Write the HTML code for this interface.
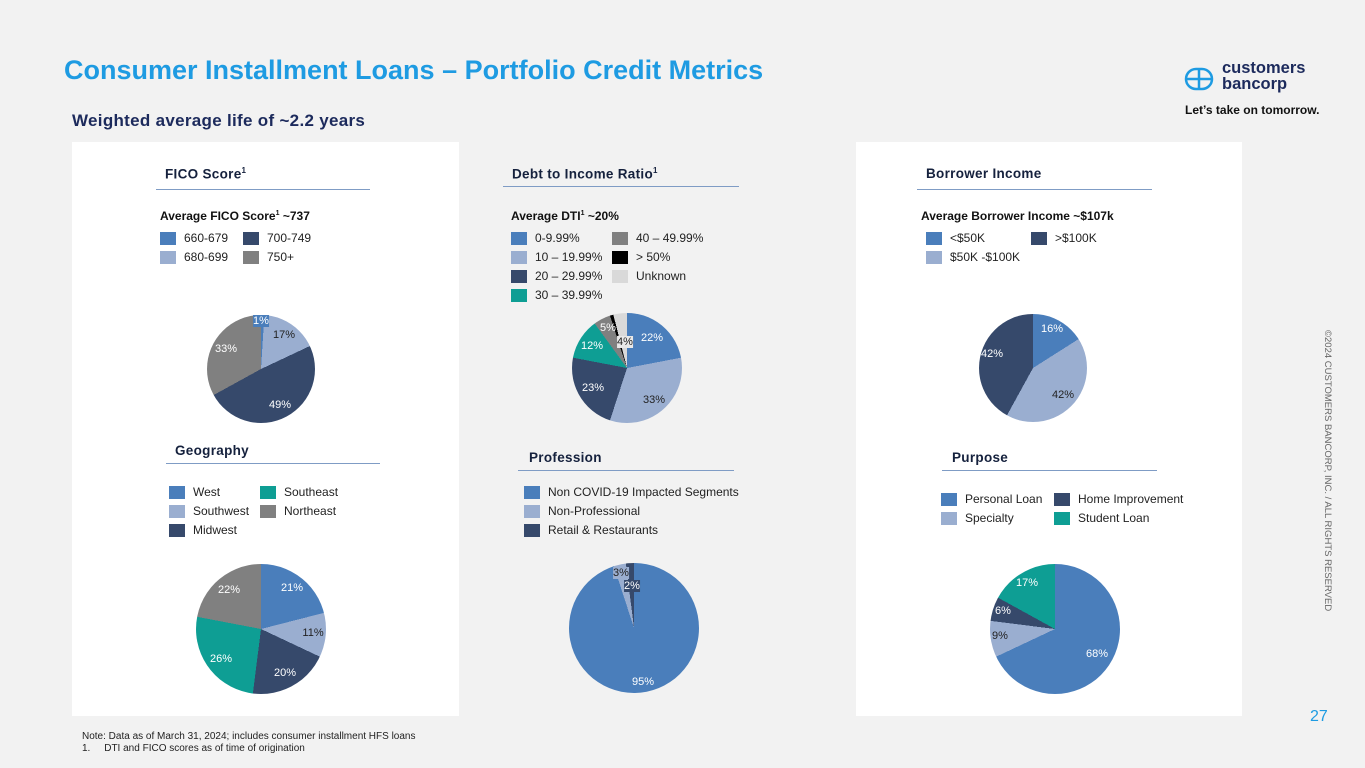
<!DOCTYPE html>
<html><head><meta charset="utf-8"><style>
body{margin:0;width:1365px;height:768px;background:#f2f2f2;position:relative;overflow:hidden;font-family:"Liberation Sans",sans-serif;color:#1c2541}
.a{position:absolute;white-space:nowrap}
.panel{position:absolute;background:#fff;top:142px;height:574px}
.h{position:absolute;font-weight:bold;font-size:13.5px;color:#15213d;white-space:nowrap;letter-spacing:0.3px}
.ul{position:absolute;height:1px;background:#7f9cc5}
.sub{position:absolute;font-weight:bold;font-size:12px;color:#111;white-space:nowrap}
.lg{position:absolute;font-size:12px;color:#222;white-space:nowrap;line-height:13px}
.lg i{display:inline-block;width:16px;height:13px;vertical-align:top;margin-right:8px}
.pie{position:absolute;border-radius:50%}
.pl{position:absolute;font-size:11px;white-space:nowrap;transform:translate(-50%,-50%)}
.w{color:#fff}.k{color:#222}
</style></head><body>
<div class="panel" style="left:72px;width:387px"></div>
<div class="panel" style="left:856px;width:386px"></div>

<div class="a" style="left:64px;top:55px;font-size:27px;font-weight:bold;color:#1e9be2">Consumer Installment Loans – Portfolio Credit Metrics</div>
<div class="a" style="left:72px;top:111px;font-size:17px;font-weight:bold;color:#1c2a5c;letter-spacing:0.3px">Weighted average life of ~2.2 years</div>

<svg class="a" style="left:1184px;top:67px" width="30" height="24" viewBox="0 0 30 24"><g fill="none" stroke="#1e9be2" stroke-width="2.5"><rect x="2" y="2" width="26" height="20" rx="10"/><line x1="3" y1="12" x2="27" y2="12"/><line x1="15" y1="2" x2="15" y2="22"/></g></svg>
<div class="a" style="left:1222px;top:60px;font-size:16.5px;font-weight:bold;color:#1c2a5c;line-height:16px">customers<br>bancorp</div>
<div class="a" style="left:1185px;top:103px;font-size:12px;font-weight:bold;color:#111">Let’s take on tomorrow.</div>

<div class="a" style="left:1322px;top:330px;font-size:9.5px;color:#666;transform-origin:0 0;transform:rotate(90deg) translateY(-100%)">©2024 CUSTOMERS BANCORP, INC. / ALL RIGHTS RESERVED</div>
<div class="a" style="left:1310px;top:708px;font-size:16px;color:#1e9be2">27</div>
<div class="a" style="left:82px;top:731px;font-size:10px;color:#222;line-height:12px">Note: Data as of March 31, 2024; includes consumer installment HFS loans<br>1.&nbsp;&nbsp;&nbsp;&nbsp;&nbsp;DTI and FICO scores as of time of origination</div>

<!-- FICO -->
<div class="h" style="left:165px;top:166px">FICO Score<sup style="font-size:8px">1</sup></div>
<div class="ul" style="left:156px;top:189px;width:214px"></div>
<div class="sub" style="left:160px;top:209px">Average FICO Score<sup style="font-size:7px">1</sup> ~737</div>
<div class="lg" style="left:160px;top:232px"><i style="background:#4a7ebb"></i>660-679</div>
<div class="lg" style="left:243px;top:232px"><i style="background:#36496b"></i>700-749</div>
<div class="lg" style="left:160px;top:251px"><i style="background:#9aaed0"></i>680-699</div>
<div class="lg" style="left:243px;top:251px"><i style="background:#808080"></i>750+</div>
<div class="pie" style="left:207px;top:315px;width:108px;height:108px;background:conic-gradient(#4a7ebb 0 1%,#9aaed0 1% 18%,#36496b 18% 67%,#808080 67% 100%)"></div>
<div class="pl w" style="left:261px;top:321px;background:#4a7ebb">1%</div>
<div class="pl k" style="left:284px;top:335px">17%</div>
<div class="pl w" style="left:226px;top:349px">33%</div>
<div class="pl w" style="left:280px;top:405px">49%</div>

<!-- DTI -->
<div class="h" style="left:512px;top:166px">Debt to Income Ratio<sup style="font-size:8px">1</sup></div>
<div class="ul" style="left:503px;top:186px;width:236px"></div>
<div class="sub" style="left:511px;top:209px">Average DTI<sup style="font-size:7px">1</sup> ~20%</div>
<div class="lg" style="left:511px;top:232px"><i style="background:#4a7ebb"></i>0-9.99%</div>
<div class="lg" style="left:612px;top:232px"><i style="background:#808080"></i>40 – 49.99%</div>
<div class="lg" style="left:511px;top:251px"><i style="background:#9aaed0"></i>10 – 19.99%</div>
<div class="lg" style="left:612px;top:251px"><i style="background:#000"></i>&gt; 50%</div>
<div class="lg" style="left:511px;top:270px"><i style="background:#36496b"></i>20 – 29.99%</div>
<div class="lg" style="left:612px;top:270px"><i style="background:#d9d9d9"></i>Unknown</div>
<div class="lg" style="left:511px;top:289px"><i style="background:#0e9e94"></i>30 – 39.99%</div>
<div class="pie" style="left:572px;top:313px;width:110px;height:110px;background:conic-gradient(#4a7ebb 0 22%,#9aaed0 22% 55%,#36496b 55% 78%,#0e9e94 78% 90%,#808080 90% 95%,#000 95% 96%,#d9d9d9 96% 100%)"></div>
<div class="pl w" style="left:652px;top:338px">22%</div>
<div class="pl k" style="left:654px;top:400px">33%</div>
<div class="pl w" style="left:593px;top:388px">23%</div>
<div class="pl w" style="left:592px;top:346px">12%</div>
<div class="pl w" style="left:608px;top:328px">5%</div>
<div class="pl k" style="left:625px;top:342px;background:#e8e8e8">4%</div>

<!-- Income -->
<div class="h" style="left:926px;top:166px">Borrower Income</div>
<div class="ul" style="left:917px;top:189px;width:235px"></div>
<div class="sub" style="left:921px;top:209px">Average Borrower Income ~$107k</div>
<div class="lg" style="left:926px;top:232px"><i style="background:#4a7ebb"></i>&lt;$50K</div>
<div class="lg" style="left:1031px;top:232px"><i style="background:#36496b"></i>&gt;$100K</div>
<div class="lg" style="left:926px;top:251px"><i style="background:#9aaed0"></i>$50K -$100K</div>
<div class="pie" style="left:979px;top:314px;width:108px;height:108px;background:conic-gradient(#4a7ebb 0 16%,#9aaed0 16% 58%,#36496b 58% 100%)"></div>
<div class="pl w" style="left:1052px;top:329px">16%</div>
<div class="pl k" style="left:1063px;top:395px">42%</div>
<div class="pl w" style="left:992px;top:354px">42%</div>

<!-- Geography -->
<div class="h" style="left:175px;top:443px">Geography</div>
<div class="ul" style="left:166px;top:463px;width:214px"></div>
<div class="lg" style="left:169px;top:486px"><i style="background:#4a7ebb"></i>West</div>
<div class="lg" style="left:260px;top:486px"><i style="background:#0e9e94"></i>Southeast</div>
<div class="lg" style="left:169px;top:505px"><i style="background:#9aaed0"></i>Southwest</div>
<div class="lg" style="left:260px;top:505px"><i style="background:#808080"></i>Northeast</div>
<div class="lg" style="left:169px;top:524px"><i style="background:#36496b"></i>Midwest</div>
<div class="pie" style="left:196px;top:564px;width:130px;height:130px;background:conic-gradient(#4a7ebb 0 21%,#9aaed0 21% 32%,#36496b 32% 52%,#0e9e94 52% 78%,#808080 78% 100%)"></div>
<div class="pl w" style="left:292px;top:588px">21%</div>
<div class="pl k" style="left:313px;top:633px">11%</div>
<div class="pl w" style="left:285px;top:673px">20%</div>
<div class="pl w" style="left:221px;top:659px">26%</div>
<div class="pl w" style="left:229px;top:590px">22%</div>

<!-- Profession -->
<div class="h" style="left:529px;top:450px">Profession</div>
<div class="ul" style="left:518px;top:470px;width:216px"></div>
<div class="lg" style="left:524px;top:486px"><i style="background:#4a7ebb"></i>Non COVID-19 Impacted Segments</div>
<div class="lg" style="left:524px;top:505px"><i style="background:#9aaed0"></i>Non-Professional</div>
<div class="lg" style="left:524px;top:524px"><i style="background:#36496b"></i>Retail &amp; Restaurants</div>
<div class="pie" style="left:569px;top:563px;width:130px;height:130px;background:conic-gradient(#4a7ebb 0 95%,#9aaed0 95% 98%,#36496b 98% 100%)"></div>
<div class="pl k" style="left:621px;top:573px;background:#9aaed0">3%</div>
<div class="pl w" style="left:632px;top:586px;background:#36496b">2%</div>
<div class="pl w" style="left:643px;top:682px">95%</div>

<!-- Purpose -->
<div class="h" style="left:952px;top:450px">Purpose</div>
<div class="ul" style="left:942px;top:470px;width:215px"></div>
<div class="lg" style="left:941px;top:493px"><i style="background:#4a7ebb"></i>Personal Loan</div>
<div class="lg" style="left:1054px;top:493px"><i style="background:#36496b"></i>Home Improvement</div>
<div class="lg" style="left:941px;top:512px"><i style="background:#9aaed0"></i>Specialty</div>
<div class="lg" style="left:1054px;top:512px"><i style="background:#0e9e94"></i>Student Loan</div>
<div class="pie" style="left:990px;top:564px;width:130px;height:130px;background:conic-gradient(#4a7ebb 0 68%,#9aaed0 68% 77%,#36496b 77% 83%,#0e9e94 83% 100%)"></div>
<div class="pl w" style="left:1097px;top:654px">68%</div>
<div class="pl k" style="left:1000px;top:636px">9%</div>
<div class="pl w" style="left:1003px;top:611px">6%</div>
<div class="pl w" style="left:1027px;top:583px">17%</div>
</body></html>
